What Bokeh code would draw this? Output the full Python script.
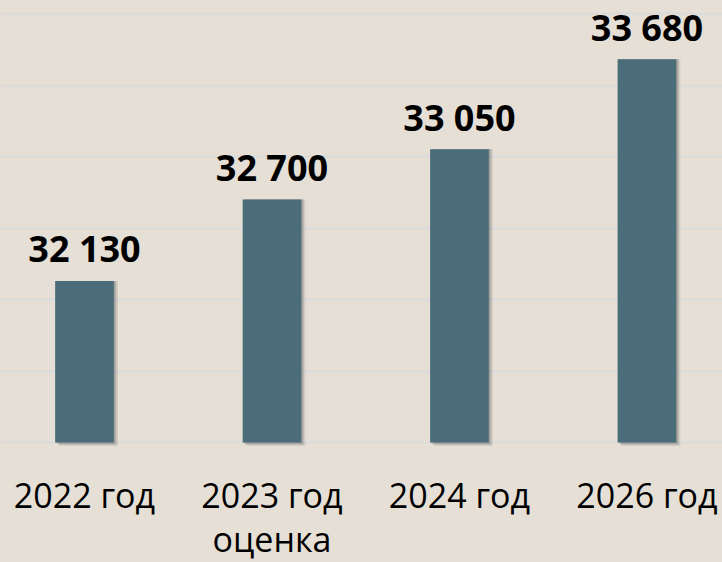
from bokeh.plotting import figure
from bokeh.models import Range1d, Grid, FixedTicker, ColumnDataSource
from bokeh.core.properties import value
from bokeh.transform import dodge
from bokeh.embed import file_html
from bokeh.resources import INLINE

categories = ["2022 год", "2023 год\nоценка", "2024 год", "2026 год"]
values = [32130, 32700, 33050, 33680]
value_labels = ["32 130", "32 700", "33 050", "33 680"]
base_value = 31000
grid_ticks = [31000, 31500, 32000, 32500, 33000, 33500, 34000]

BG = "#e5dfd5"
BAR = "#4b6c79"

xs = list(range(len(categories)))
line1 = [c.split("\n")[0] for c in categories]
line2 = [c.split("\n")[1] if "\n" in c else "" for c in categories]

src = ColumnDataSource(dict(x=xs, top=values, lab=value_labels, l1=line1, l2=line2))

p = figure(width=722, height=562, output_backend="svg", toolbar_location=None,
           x_range=Range1d(-0.448, 3.403), y_range=Range1d(30161, 34091),
           x_axis_type=None, y_axis_type=None, min_border=0)
p.background_fill_color = BG
p.border_fill_color = BG
p.outline_line_color = None
p.xgrid.visible = False
p.ygrid.visible = False

g = Grid(dimension=1, ticker=FixedTicker(ticks=grid_ticks),
         grid_line_color="#d6d9dd", grid_line_width=1.5)
p.add_layout(g)

# soft shadows
for off, alpha in [(0.022, 0.10), (0.014, 0.14), (0.008, 0.18)]:
    p.vbar(x=dodge("x", off, range=p.x_range), top="top", bottom=base_value - off * 1100,
           width=0.313, source=src, fill_color="#3a3a3a", fill_alpha=alpha, line_color=None)
p.vbar(x="x", top="top", bottom=base_value, width=0.313, source=src,
       fill_color=BAR, line_color=None)

p.text(x="x", y="top", text="lab", source=src, text_align="center",
       text_baseline="alphabetic", y_offset=-32, text_font=value("Open Sans"),
       text_font_style="bold", text_font_size="36px", text_color="#000000")

p.text(x="x", y=base_value, text="l1", source=src, text_align="center",
       text_baseline="alphabetic", y_offset=52, text_font=value("Open Sans"),
       text_font_size="34px", text_color="#000000")
p.text(x="x", y=base_value, text="l2", source=src, text_align="center",
       text_baseline="alphabetic", y_offset=96, text_font=value("Open Sans"),
       text_font_size="34px", text_color="#000000")

html = file_html(p, INLINE)
html = html.replace("<head>", "<head><style>html,body{margin:0;padding:0;background:%s;overflow:hidden}</style>" % BG, 1)
open("out.html", "w").write(html)
